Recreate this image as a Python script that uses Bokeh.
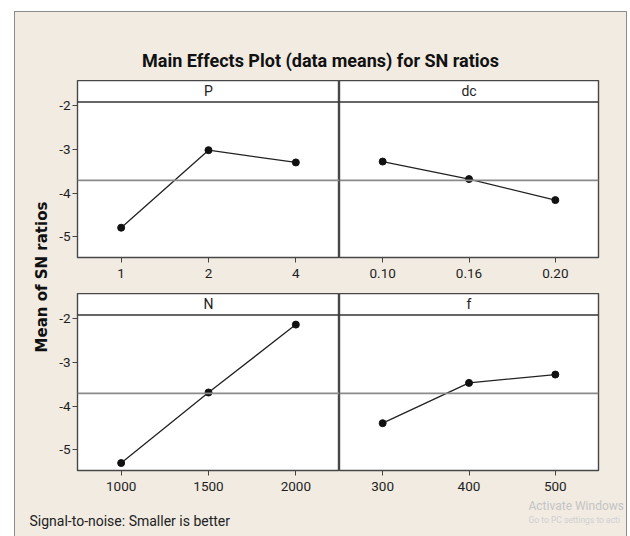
import math
from bokeh.plotting import figure
from bokeh.models import FactorRange, Range1d, Span, Label, FixedTicker
from bokeh.layouts import row, column
from bokeh.embed import file_html
from bokeh.resources import INLINE
from bokeh.core.properties import value

# ---------------- data ----------------
TITLE = "Main Effects Plot (data means) for SN ratios"
Y_LABEL = "Mean of SN ratios"
FOOTNOTE = "Signal-to-noise: Smaller is better"
WATERMARK_1 = "Activate Windows"
WATERMARK_2 = "Go to PC settings to acti"

P_levels = ["1", "2", "4"]
P_means = [-4.79, -3.02, -3.30]
dc_levels = ["0.10", "0.16", "0.20"]
dc_means = [-3.28, -3.68, -4.16]
N_levels = ["1000", "1500", "2000"]
N_means = [-5.30, -3.69, -2.14]
f_levels = ["300", "400", "500"]
f_means = [-4.39, -3.47, -3.28]
grand_mean = -3.71
y_ticks = [-5, -4, -3, -2]

# ---------------- style ----------------
BEIGE = "#F1EBE2"
FONT = "Roboto"
Y_START, Y_END, STRIP_SEP = -5.47, -1.43, -1.92


def panel(name, levels, means, width, height, left, right, bottom, show_y):
    p = figure(width=width, height=height,
               x_range=FactorRange(factors=levels),
               y_range=Range1d(Y_START, Y_END),
               output_backend="svg", toolbar_location=None,
               min_border_left=left, min_border_right=right,
               min_border_top=0, min_border_bottom=bottom,
               y_axis_location="left" if show_y else None)
    p.background_fill_color = "white"
    p.border_fill_color = BEIGE
    p.outline_line_color = "#474747"
    p.outline_line_width = 1.4
    p.grid.visible = False

    ax = p.xaxis[0]
    ax.axis_line_color = None
    ax.major_tick_in = 0
    ax.major_tick_out = 5
    ax.major_tick_line_color = "#444444"
    ax.major_label_text_font = FONT
    ax.major_label_text_font_size = "13.5px"
    ax.major_label_text_color = "#1e1e1e"
    ax.major_label_standoff = 6
    if show_y:
        ya = p.yaxis[0]
        ya.ticker = FixedTicker(ticks=y_ticks)
        ya.major_label_overrides = {t: str(t) for t in y_ticks}
        ya.axis_line_color = None
        ya.major_tick_in = 0
        ya.major_tick_out = 5
        ya.minor_tick_line_color = None
        ya.major_tick_line_color = "#444444"
        ya.major_label_text_font = FONT
        ya.major_label_text_font_size = "13.5px"
        ya.major_label_text_color = "#1e1e1e"
        ya.major_label_standoff = 2

    p.add_layout(Span(location=STRIP_SEP, dimension="width",
                      line_color="#333333", line_width=1.5))
    p.add_layout(Span(location=grand_mean, dimension="width",
                      line_color="#8a8a8a", line_width=1.6))
    p.text(x=[levels[1]], y=[(STRIP_SEP + Y_END) / 2], text=[name],
           text_align="center", text_baseline="middle",
           text_font=value(FONT), text_font_size="14px", text_color="#222222")
    p.line(levels, means, line_color="#222222", line_width=1.3)
    p.scatter(levels, means, size=7, color="#111111")
    return p


f1 = panel("P", P_levels, P_means, 284, 213, 22, 0, 36, True)
f2 = panel("dc", dc_levels, dc_means, 287, 213, 0, 28, 36, False)
f3 = panel("N", N_levels, N_means, 284, 205, 22, 0, 28, True)
f4 = panel("f", f_levels, f_means, 287, 205, 0, 28, 28, False)


def blank(width, height):
    p = figure(width=width, height=height, x_range=Range1d(0, 1), y_range=Range1d(0, 1),
               output_backend="svg", toolbar_location=None,
               x_axis_location=None, y_axis_location=None,
               min_border=0)
    p.min_border_left = p.min_border_right = p.min_border_top = p.min_border_bottom = 0
    p.background_fill_color = BEIGE
    p.border_fill_color = BEIGE
    p.outline_line_color = None
    p.grid.visible = False
    return p


header = blank(611, 68)
header.add_layout(Label(x=305, y=20, x_units="screen", y_units="screen", text=TITLE,
                        text_align="center", text_baseline="middle",
                        text_font=FONT, text_font_style="bold",
                        text_font_size="18px", text_color="#111111"))

left = blank(40, 418)
left.add_layout(Label(x=26.5, y=221.5, x_units="screen", y_units="screen", text=Y_LABEL,
                      angle=math.pi / 2, text_align="center", text_baseline="middle",
                      text_font="DejaVu Sans", text_font_style="bold",
                      text_font_size="15px", text_color="#111111"))

footer = blank(611, 38)
footer.add_layout(Label(x=14, y=16, x_units="screen", y_units="screen", text=FOOTNOTE,
                        text_align="left", text_baseline="middle",
                        text_font=FONT, text_font_size="14px", text_color="#222222"))
footer.add_layout(Label(x=513, y=31, x_units="screen", y_units="screen", text=WATERMARK_1,
                        text_align="left", text_baseline="middle",
                        text_font=FONT, text_font_size="12px", text_color="#c4c4c4"))
footer.add_layout(Label(x=513, y=17, x_units="screen", y_units="screen", text=WATERMARK_2,
                        text_align="left", text_baseline="middle",
                        text_font=FONT, text_font_size="8.5px", text_color="#d0d0d0"))

layout = column(header,
                row(left, column(row(f1, f2), row(f3, f4))),
                footer,
                margin=(12, 0, 0, 15),
                styles={"outline": "1px solid #8c8c8c", "background-color": BEIGE})

open("out.html", "w").write(file_html(layout, INLINE))
